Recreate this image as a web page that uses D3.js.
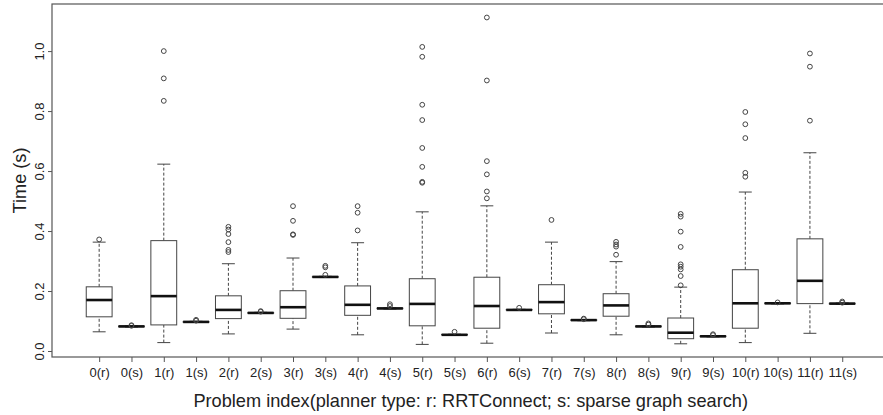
<!DOCTYPE html>
<html>
<head>
<meta charset="utf-8">
<script src="https://cdn.jsdelivr.net/npm/d3@7"></script>
<style>
  body { margin: 0; background: #fff; }
  svg { display: block; font-family: "Liberation Sans", Arial, Helvetica, sans-serif; }
</style>
</head>
<body>
<div id="chart"></div>
<script>
// problem labels, r = RRTConnect, s = sparse graph search
const problems = ["0(r)", "0(s)", "1(r)", "1(s)", "2(r)", "2(s)", "3(r)", "3(s)",
  "4(r)", "4(s)", "5(r)", "5(s)", "6(r)", "6(s)", "7(r)", "7(s)",
  "8(r)", "8(s)", "9(r)", "9(s)", "10(r)", "10(s)", "11(r)", "11(s)"];

// box stats (seconds)
const whiskerLow  = [0.064, 0.080, 0.028, 0.095, 0.057, 0.125, 0.073, 0.245, 0.054, 0.140, 0.022, 0.053, 0.026, 0.136, 0.060, 0.101, 0.054, 0.080, 0.024, 0.047, 0.028, 0.157, 0.059, 0.156];
const q1          = [0.114, 0.081, 0.087, 0.096, 0.108, 0.126, 0.109, 0.246, 0.119, 0.141, 0.084, 0.054, 0.076, 0.137, 0.124, 0.102, 0.116, 0.081, 0.041, 0.048, 0.076, 0.158, 0.158, 0.157];
const median      = [0.170, 0.082, 0.183, 0.097, 0.137, 0.127, 0.146, 0.247, 0.154, 0.142, 0.157, 0.054, 0.150, 0.137, 0.163, 0.103, 0.152, 0.082, 0.061, 0.049, 0.159, 0.159, 0.234, 0.158];
const q3          = [0.214, 0.083, 0.368, 0.098, 0.184, 0.128, 0.201, 0.248, 0.217, 0.143, 0.241, 0.055, 0.246, 0.138, 0.221, 0.104, 0.191, 0.083, 0.110, 0.050, 0.271, 0.160, 0.374, 0.159];
const whiskerHigh = [0.363, 0.084, 0.623, 0.099, 0.291, 0.129, 0.310, 0.249, 0.361, 0.144, 0.464, 0.056, 0.484, 0.139, 0.363, 0.105, 0.298, 0.084, 0.213, 0.051, 0.530, 0.161, 0.661, 0.160];
const outliers = [
  [0.372],
  [0.084, 0.086],
  [1.000, 0.909, 0.834],
  [0.101, 0.104],
  [0.414, 0.405, 0.390, 0.363, 0.337, 0.330],
  [0.131, 0.133],
  [0.483, 0.434, 0.387, 0.389],
  [0.254, 0.279, 0.284],
  [0.483, 0.461, 0.402],
  [0.150, 0.156],
  [1.014, 0.981, 0.821, 0.770, 0.677, 0.614, 0.561, 0.564],
  [0.064],
  [1.112, 0.902, 0.633, 0.589, 0.532, 0.509],
  [0.144],
  [0.437],
  [0.106, 0.108],
  [0.364, 0.355, 0.348, 0.321],
  [0.088, 0.092],
  [0.457, 0.448, 0.398, 0.347, 0.289, 0.281, 0.272, 0.250, 0.219],
  [0.053, 0.056],
  [0.797, 0.756, 0.710, 0.594, 0.581],
  [0.162],
  [0.992, 0.948, 0.768],
  [0.161, 0.165]
];
const yTicks = [0, 0.2, 0.4, 0.6, 0.8, 1.0];

const width = 883, height = 415;
const plotLeft = 52, plotTop = 4, plotBottom = 357, plotRight = 889.4;
const ink = "#444";

const x = d3.scaleLinear()
  .domain([0.5 - 0.96, problems.length + 0.5 + 0.96])
  .range([plotLeft, plotRight]);

const y = d3.scaleLinear()
  .domain([-0.02, 1.157])
  .range([plotBottom, plotTop]);

const svg = d3.select("#chart")
  .append("svg")
  .attr("width", width)
  .attr("height", height)
  .attr("viewBox", [0, 0, width, height]);

const boxW = x(0.4) - x(0);   // half box width
const capW = boxW / 2;         // half staple width

const rows = problems.map((p, i) => ({
  pos: i + 1, lo: whiskerLow[i], q1: q1[i], med: median[i], q3: q3[i], hi: whiskerHigh[i], out: outliers[i]
}));

const g = svg.append("g");

// whiskers (dashed)
g.selectAll("line.whisker")
  .data(rows.flatMap(d => [[d, d.lo, d.q1], [d, d.q3, d.hi]]))
  .join("line")
  .attr("x1", ([d]) => x(d.pos)).attr("x2", ([d]) => x(d.pos))
  .attr("y1", ([, a]) => y(a)).attr("y2", ([, , b]) => y(b))
  .attr("stroke", ink).attr("stroke-width", 1)
  .attr("stroke-dasharray", "3,2");

// staples
g.selectAll("line.staple")
  .data(rows.flatMap(d => [[d, d.lo], [d, d.hi]]))
  .join("line")
  .attr("x1", ([d]) => x(d.pos) - capW).attr("x2", ([d]) => x(d.pos) + capW)
  .attr("y1", ([, v]) => y(v)).attr("y2", ([, v]) => y(v))
  .attr("stroke", ink).attr("stroke-width", 1);

// boxes
g.selectAll("rect.box")
  .data(rows)
  .join("rect")
  .attr("x", d => x(d.pos) - boxW)
  .attr("width", 2 * boxW)
  .attr("y", d => y(d.q3))
  .attr("height", d => y(d.q1) - y(d.q3))
  .attr("fill", "#fff")
  .attr("stroke", ink).attr("stroke-width", 1);

// medians
g.selectAll("line.median")
  .data(rows)
  .join("line")
  .attr("x1", d => x(d.pos) - boxW).attr("x2", d => x(d.pos) + boxW)
  .attr("y1", d => y(d.med)).attr("y2", d => y(d.med))
  .attr("stroke", "#111").attr("stroke-width", 2.6);

// outliers
g.selectAll("circle")
  .data(rows.flatMap(d => d.out.map(v => [d, v])))
  .join("circle")
  .attr("cx", ([d]) => x(d.pos))
  .attr("cy", ([, v]) => y(v))
  .attr("r", 2.4)
  .attr("fill", "none")
  .attr("stroke", ink).attr("stroke-width", 1);

// frame
svg.append("rect")
  .attr("x", plotLeft).attr("y", plotTop)
  .attr("width", plotRight - plotLeft).attr("height", plotBottom - plotTop)
  .attr("fill", "none").attr("stroke", "#555").attr("stroke-width", 1.2);

// y axis
svg.append("g")
  .attr("transform", `translate(${plotLeft},0)`)
  .call(d3.axisLeft(y).tickValues(yTicks).tickSize(4).tickFormat(d3.format(".1f")))
  .call(a => a.select(".domain").remove())
  .call(a => a.selectAll(".tick line").attr("stroke", "#555"))
  .call(a => a.selectAll(".tick text")
    .attr("transform", "rotate(-90)")
    .attr("x", 0).attr("y", -8.5).attr("dy", null)
    .attr("text-anchor", "middle")
    .attr("font-size", 13).attr("fill", "#222"));

// x axis
svg.append("g")
  .attr("transform", `translate(0,${plotBottom})`)
  .call(d3.axisBottom(x).tickValues(d3.range(1, problems.length + 1)).tickSize(5).tickPadding(6)
    .tickFormat(i => problems[i - 1]))
  .call(a => a.select(".domain").remove())
  .call(a => a.selectAll(".tick line").attr("stroke", "#555"))
  .call(a => a.selectAll(".tick text").attr("font-size", 13).attr("fill", "#222"));

// axis titles
svg.append("text")
  .attr("x", (plotLeft + plotRight) / 2).attr("y", 407)
  .attr("text-anchor", "middle").attr("font-size", 18.2).attr("fill", "#222")
  .text("Problem index(planner type: r: RRTConnect; s: sparse graph search)");

svg.append("text")
  .attr("transform", `translate(26,${(plotTop + plotBottom) / 2}) rotate(-90)`)
  .attr("text-anchor", "middle").attr("font-size", 18.2).attr("fill", "#222")
  .text("Time (s)");
</script>
</body>
</html>
